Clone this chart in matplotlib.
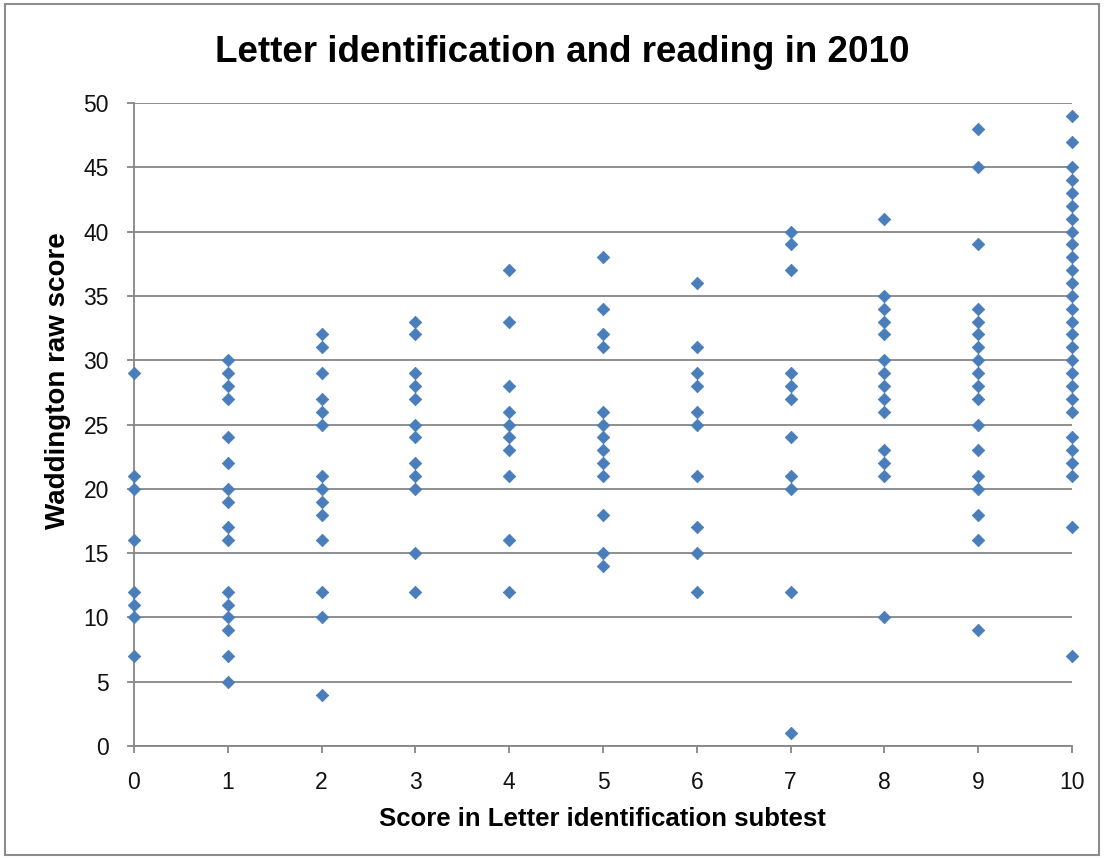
import matplotlib
matplotlib.use("Agg")
import matplotlib.pyplot as plt
from matplotlib.patches import Rectangle

plt.rcParams['font.family'] = ['Liberation Sans', 'DejaVu Sans']

title = "Letter identification and reading in 2010"
x_label = "Score in Letter identification subtest"
y_label = "Waddington raw score"

scores = {
    0: [29, 21, 20, 16, 12, 11, 10, 7],
    1: [30, 29, 28, 27, 24, 22, 20, 19, 17, 16, 12, 11, 10, 9, 7, 5],
    2: [32, 31, 29, 27, 26, 25, 21, 20, 19, 18, 16, 12, 10, 4],
    3: [33, 32, 29, 28, 27, 25, 24, 22, 21, 20, 15, 12],
    4: [37, 33, 28, 26, 25, 24, 23, 21, 16, 12],
    5: [38, 34, 32, 31, 26, 25, 24, 23, 22, 21, 18, 15, 14],
    6: [36, 31, 29, 28, 26, 25, 21, 17, 15, 12],
    7: [40, 39, 37, 29, 28, 27, 24, 21, 20, 12, 1],
    8: [41, 35, 34, 33, 32, 30, 29, 28, 27, 26, 23, 22, 21, 10],
    9: [48, 45, 39, 34, 33, 32, 31, 30, 29, 28, 27, 25, 23, 21, 20, 18, 16, 9],
    10: [49, 47, 45, 44, 43, 42, 41, 40, 39, 38, 37, 36, 35, 34, 33, 32, 31,
         30, 29, 28, 27, 26, 24, 23, 22, 21, 17, 7],
}
x_ticks = list(range(0, 11))
y_ticks = list(range(0, 51, 5))

xs = [k for k, v in scores.items() for _ in v]
ys = [y for v in scores.values() for y in v]

W, H = 1109, 858
fig = plt.figure(figsize=(W / 100, H / 100), dpi=100)
fig.patch.set_facecolor('white')
fig.patches.append(Rectangle((5 / W, 3 / H), 1094 / W, 851 / H, transform=fig.transFigure,
                             fill=False, edgecolor='#8c8c8c', linewidth=1.5))

ax = fig.add_axes([134 / W, 1 - 746 / H, (1072 - 134) / W, (746 - 103) / H])
ax.scatter(xs, ys, marker='D', s=40, color='#4a7ebb', edgecolors='#4a7ebb',
           linewidths=0.6, zorder=3, clip_on=False)

ax.set_xlim(0, 10)
ax.set_ylim(0, 50)
ax.set_xticks(x_ticks)
ax.set_yticks(y_ticks)
ax.yaxis.grid(True, color='#868686', linewidth=1.3)
ax.set_axisbelow(True)
for s in ['top', 'right']:
    ax.spines[s].set_visible(False)
for s in ['left', 'bottom']:
    ax.spines[s].set_color('#868686')
    ax.spines[s].set_linewidth(1.3)
ax.tick_params(axis='both', colors='#868686', labelcolor='#111111', labelsize=16.5,
               length=5, width=1.3)
ax.tick_params(axis='x', pad=13)
ax.tick_params(axis='y', pad=13)

ax.set_xlabel(x_label, fontsize=18.5, fontweight='bold', va='baseline')
ax.xaxis.set_label_coords((602 - 134) / 938, (746 - 826) / 643)
ax.set_ylabel(y_label, fontsize=20, fontweight='bold', va='baseline')
ax.yaxis.set_label_coords((65 - 134) / 938, (746 - 381) / 643)

fig.text(562 / W, 1 - 62 / H, title, ha='center', va='baseline', fontsize=26.5, fontweight='bold')

fig.savefig("out.png", dpi=100)
